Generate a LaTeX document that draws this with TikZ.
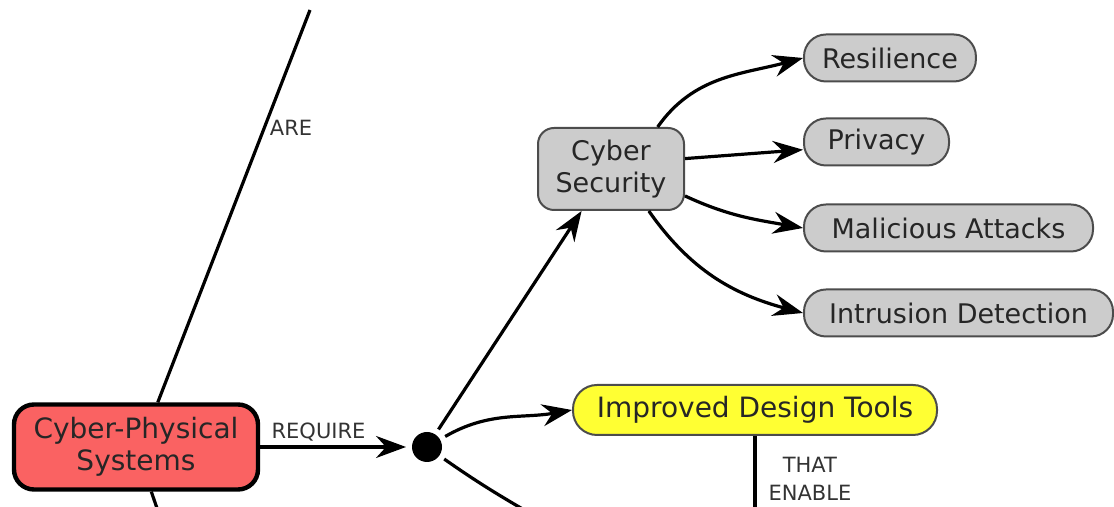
\documentclass[tikz,border=0pt]{standalone}
\usepackage{fontspec}
\setmainfont{DejaVu Sans}
\usetikzlibrary{arrows.meta}
\definecolor{cpsred}{RGB}{250,98,98}
\definecolor{conceptgray}{RGB}{204,204,204}
\definecolor{toolyellow}{RGB}{255,255,51}

\begin{document}
\begin{tikzpicture}[x=0.5pt,y=0.5pt]
\tikzstyle{concept}=[draw=black!70, line width=1pt, fill=conceptgray, rounded corners=11pt, minimum height=23.5pt, inner xsep=9pt, text=black!85, font=\fontsize{13.5}{16}\selectfont]
\tikzstyle{leaf}=[concept, anchor=west]
\tikzstyle{link}=[line width=1.6pt, -{Stealth[length=15pt,width=11pt,inset=5pt]}]
\tikzstyle{plain}=[line width=1.6pt]
\tikzstyle{verb}=[inner sep=2pt, text=black!80, font=\fontsize{10.5}{14}\selectfont]

\useasboundingbox (0,0) rectangle (1114,507);
\clip (0,0) rectangle (1114,507);

\node[concept, fill=cpsred, draw=black, line width=2.2pt, rounded corners=10pt, minimum width=122pt, minimum height=42.5pt, align=center, font=\fontsize{14}{16}\selectfont] (cps) at (136,60) {Cyber-Physical\\Systems};
\node[circle, fill=black, minimum size=15pt, inner sep=0pt, outer sep=3pt] (dot) at (427,60) {};
\node[concept, rounded corners=8pt, minimum width=73pt, minimum height=41pt, inner xsep=4pt, align=center] (cs) at (611,338) {Cyber\\Security};
\node[leaf, minimum width=85pt] (res) at (803,449) {Resilience};
\node[leaf, minimum width=72.5pt] (priv) at (803,365) {Privacy};
\node[leaf, minimum width=144.5pt] (mal) at (803,279) {Malicious Attacks};
\node[leaf, minimum width=154.5pt] (intr) at (803,194) {Intrusion Detection};
\node[concept, fill=toolyellow, minimum width=182pt, minimum height=25pt, rounded corners=12pt, font=\fontsize{14}{16}\selectfont] (idt) at (755,97) {Improved Design Tools};

\coordinate (areend) at (310,497);
\coordinate (cpsend) at (160,-10);
\coordinate (dotend) at (545,-15);
\coordinate (idtend) at (755,-15);

\draw[plain] (cps.64) -- node[verb, pos=0.7, right] {ARE} (areend);
\draw[plain] (cps) -- (cpsend);
\draw[link] (cps) -- node[verb, pos=0.4, above] {REQUIRE} (dot);
\draw[link] (dot) -- (cs.-125);
\draw[link] (dot) to[out=30, in=190] (idt.west);
\draw[plain] (dot) to[out=-35, in=150] (dotend);

\draw[link] (cs.42) to[out=55, in=195] (res.west);
\draw[link] (cs.8) -- (priv.186);
\draw[link] (cs.-20) to[out=-25, in=170] (mal.west);
\draw[link] (cs.-48) to[out=-55, in=165] (intr.west);
\draw[plain] (idt) -- node[verb, pos=0.5, right, xshift=4pt, align=center] {THAT\\ENABLE} (idtend);
\end{tikzpicture}
\end{document}
